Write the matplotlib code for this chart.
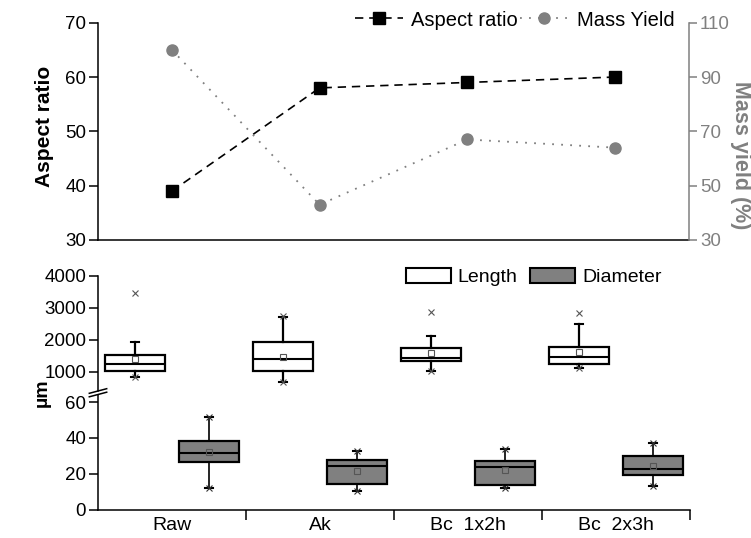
import matplotlib
matplotlib.use('Agg')
import matplotlib.pyplot as plt
from matplotlib.patches import Patch
from matplotlib.lines import Line2D
import numpy as np

plt.rcParams['font.family'] = ['Liberation Sans', 'DejaVu Sans']

# categories (bottom axis labels)
categories = ['Raw', 'Ak', 'Bc  1x2h', 'Bc  2x3h']

# top panel
aspect_ratio = [39, 58, 59, 60]
mass_yield = [100, 43, 67, 64]

# fibre length (um), box stats
length_q1 = [1020, 1010, 1330, 1240]
length_med = [1250, 1410, 1440, 1450]
length_q3 = [1520, 1930, 1750, 1780]
length_mean = [1390, 1470, 1600, 1630]
length_lo = [840, 680, 1010, 1120]
length_hi = [1920, 2720, 2120, 2490]
length_max = [3480, 2740, 2860, 2830]

# fibre diameter (um)
diam_q1 = [26.6, 14.5, 14.1, 19.7]
diam_med = [31.8, 24.2, 23.8, 22.9]
diam_q3 = [38.3, 27.9, 27.0, 30.0]
diam_mean = [32.0, 21.6, 22.3, 24.7]
diam_lo = [12.1, 10.6, 12.1, 13.2]
diam_hi = [51.7, 32.7, 33.7, 37.2]

GRAY = '#808080'
W, H = 751, 538


def box(l, t, r, b):
    # pixel box -> figure fraction rect
    return [l / W, 1 - b / H, (r - l) / W, (b - t) / H]


def make_stats(q1, med, q3, mean, lo, hi):
    return [dict(q1=a, med=b, q3=c, mean=d, whislo=e, whishi=f, fliers=[])
            for a, b, c, d, e, f in zip(q1, med, q3, mean, lo, hi)]


fig = plt.figure(figsize=(7.51, 5.38), dpi=100)
x = np.arange(len(categories))

# ---- top panel: aspect ratio + mass yield
ax1 = fig.add_axes(box(98, 22.7, 689, 240))
ax2 = ax1.twinx()
l1, = ax1.plot(x, aspect_ratio, color='black', ls=(0, (5, 3.5)), lw=1.2,
               marker='s', ms=8, label='Aspect ratio')
l2, = ax2.plot(x, mass_yield, color=GRAY, ls=(0, (1, 4)), lw=1.3,
               marker='o', ms=8, label='Mass Yield')
ax1.set_xlim(-0.5, 3.5)
ax1.set_ylim(30, 70)
ax2.set_ylim(30, 110)
ax1.set_yticks([30, 40, 50, 60, 70])
ax2.set_yticks([30, 50, 70, 90, 110])
ax1.set_xticks([])
for s in ['top', 'right']:
    ax1.spines[s].set_visible(False)
for s in ['top', 'left', 'bottom']:
    ax2.spines[s].set_visible(False)
ax1.spines['left'].set_linewidth(1.1)
ax1.spines['bottom'].set_linewidth(1.1)
ax2.spines['right'].set_color(GRAY)
ax2.spines['right'].set_linewidth(1.1)
ax1.tick_params(axis='y', length=6.5, width=1.1, labelsize=13.5, pad=2)
ax2.tick_params(axis='y', colors=GRAY, length=6, width=1.1, labelsize=13.5, pad=2)

fig.text(45 / W, 1 - 126.5 / H, 'Aspect ratio', rotation=90, fontsize=15,
         weight='bold', ha='center', va='center')
fig.text(741 / W, 1 - 155 / H, 'Mass yield (%)', rotation=270, fontsize=15.5,
         weight='bold', color=GRAY, ha='center', va='center')

fig.legend([l1, l2], ['Aspect ratio', 'Mass Yield'], loc='center left',
           bbox_to_anchor=(355 / W, 1 - 20 / H), ncol=2, frameon=False,
           fontsize=14.5, handlelength=2.4, handletextpad=0.4,
           columnspacing=0.1, borderpad=0, borderaxespad=0)

# ---- bottom panel: broken axis box plots
ax3 = fig.add_axes(box(98, 276, 690, 390.8))
ax4 = fig.add_axes(box(98, 394.8, 690, 510))

common = dict(widths=0.4, showmeans=True, patch_artist=True, showfliers=False,
              medianprops=dict(color='black', lw=1.5),
              capprops=dict(color='black', lw=1.5),
              meanprops=dict(marker='s', mfc='none', mec='#555555', ms=4, mew=0.8),
              capwidths=0.06)

ax3.bxp(make_stats(length_q1, length_med, length_q3, length_mean, length_lo, length_hi),
        positions=x - 0.25, boxprops=dict(facecolor='white', edgecolor='black', lw=1.6),
        whiskerprops=dict(color='black', lw=1.6), **common)
ax3.plot(x - 0.25, length_max, 'x', color='#555555', ms=5, mew=0.8)
ax3.plot(x - 0.25, length_lo, 'x', color='#555555', ms=5, mew=0.8)

ax4.bxp(make_stats(diam_q1, diam_med, diam_q3, diam_mean, diam_lo, diam_hi),
        positions=x + 0.25, boxprops=dict(facecolor=GRAY, edgecolor='black', lw=1.6),
        whiskerprops=dict(color='black', lw=1.2), **common)
ax4.plot(x + 0.25, diam_hi, 'x', color='#333333', ms=5, mew=0.8)
ax4.plot(x + 0.25, diam_lo, 'x', color='#333333', ms=5, mew=0.8)

for ax in (ax3, ax4):
    ax.set_xlim(-0.5, 3.5)
    ax.spines['top'].set_visible(False)
    ax.spines['right'].set_visible(False)
    ax.spines['left'].set_linewidth(1.1)
    ax.tick_params(axis='y', length=6.5, width=1.1, labelsize=13.5, pad=2)

ax3.spines['bottom'].set_visible(False)
ax3.set_ylim(400, 4000)
ax3.set_yticks([1000, 2000, 3000, 4000])
ax3.set_xticks([])

ax4.spines['bottom'].set_linewidth(1.1)
ax4.set_ylim(0, 64)
ax4.set_yticks([0, 20, 40, 60])
ax4.set_xticks(x)
ax4.set_xticklabels(categories, fontsize=14)
ax4.set_xticks([0.5, 1.5, 2.5, 3.5], minor=True)
ax4.tick_params(axis='x', which='major', length=0, pad=5)
ax4.tick_params(axis='x', which='minor', length=7, width=1.1)

# axis break marks
for dy in (0, 3.5):
    fig.add_artist(Line2D([89.3 / W, 106.7 / W],
                          [1 - (393.3 + dy) / H, 1 - (388.7 + dy) / H],
                          transform=fig.transFigure, color='black', lw=1.1))

fig.text(42 / W, 1 - 393 / H, 'µm', rotation=90, fontsize=14, weight='bold',
         ha='center', va='center')

fig.legend(handles=[Patch(facecolor='white', edgecolor='black', lw=1.5),
                    Patch(facecolor=GRAY, edgecolor='black', lw=1.5)],
           labels=['Length', 'Diameter'], loc='center left',
           bbox_to_anchor=(406 / W, 1 - 277 / H), ncol=2, frameon=False,
           fontsize=14, handlelength=2.3, handleheight=0.87, handletextpad=0.36,
           columnspacing=0.65, borderpad=0, borderaxespad=0)

fig.savefig('out.png', dpi=100)
